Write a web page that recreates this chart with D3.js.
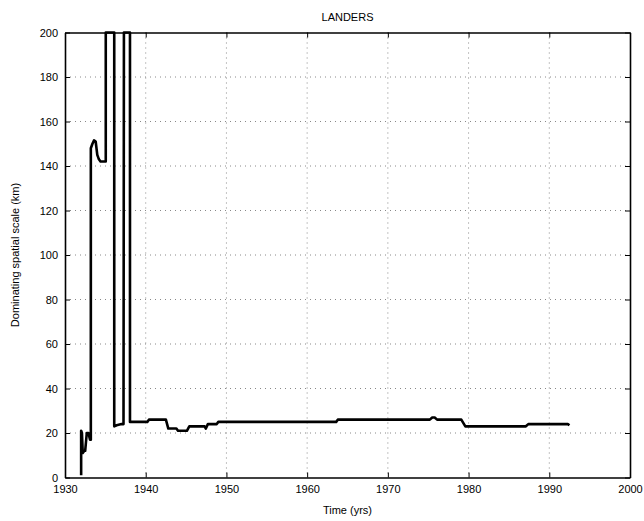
<!DOCTYPE html>
<html><head><meta charset="utf-8">
<script src="https://cdn.jsdelivr.net/npm/d3@7"></script>
<style>body{margin:0;background:#fff}text{font-family:"Liberation Sans",Arial,sans-serif}</style>
</head><body><svg id="c" width="644" height="521"></svg>
<script>
const title = "LANDERS";
const xLabel = "Time (yrs)";
const yLabel = "Dominating spatial scale (km)";
const xTicks = [1930,1940,1950,1960,1970,1980,1990,2000];
const yTicks = [0,20,40,60,80,100,120,140,160,180,200];
const years = [1932.0,1932.0,1932.1,1932.2,1932.4,1932.5,1932.7,1932.9,1933.1,1933.2,1933.2,1933.4,1933.6,1933.8,1934.0,1934.2,1934.4,1934.7,1934.75,1935.05,1935.05,1936.1,1936.1,1936.4,1937.0,1937.25,1937.3,1938.05,1938.05,1940.2,1940.4,1942.5,1942.8,1943.8,1944.0,1945.1,1945.4,1947.3,1947.45,1947.7,1948.8,1949.0,1963.6,1963.8,1975.2,1975.5,1975.8,1976.1,1979.1,1979.6,1987.1,1987.4,1992.3,1992.5];
const values = [1,21,20,11,12,12,20,20,17,17,148,150,151.5,151,145,143,142,142,142,142,200,200,23,23.5,24,24,200,200,25,25,26,26,22,22,21,21,23,23,22,24,24,25,25,26,26,27,27,26,26,23,23,24,24,23.5];

const svg = d3.select("#c");
const m = {l:65, r:630, t:32.5, b:477.5};
const x = d3.scaleLinear().domain([1930,2000]).range([m.l,m.r]);
const y = d3.scaleLinear().domain([0,200]).range([m.b,m.t]);

// grid
const g = svg.append("g");
g.selectAll(".gx").data(xTicks.slice(1,-1)).enter().append("line")
 .attr("x1",d=>x(d)).attr("x2",d=>x(d)).attr("y1",m.t).attr("y2",m.b)
 .attr("stroke","#888").attr("stroke-width",1).attr("stroke-dasharray","1,4");
g.selectAll(".gy").data(yTicks.slice(1,-1)).enter().append("line")
 .attr("y1",d=>y(d)).attr("y2",d=>y(d)).attr("x1",m.l).attr("x2",m.r)
 .attr("stroke","#888").attr("stroke-width",1).attr("stroke-dasharray","1,4");

// data line
const pts = years.map((d,i)=>[d,values[i]]);
svg.append("path").datum(pts)
 .attr("d", d3.line().x(d=>x(d[0])).y(d=>y(d[1])))
 .attr("fill","none").attr("stroke","#000").attr("stroke-width",2.6).attr("stroke-linejoin","round");

// axes
const ax = svg.append("g").attr("transform",`translate(0,${m.b})`)
 .call(d3.axisBottom(x).tickValues(xTicks).tickFormat(d3.format("d")).tickSizeInner(-5).tickSizeOuter(0).tickPadding(8));
const ay = svg.append("g").attr("transform",`translate(${m.l},0)`)
 .call(d3.axisLeft(y).tickValues(yTicks).tickSizeInner(-5).tickSizeOuter(0).tickPadding(7));
const axT = svg.append("g").attr("transform",`translate(0,${m.t})`)
 .call(d3.axisTop(x).tickValues(xTicks).tickFormat("").tickSizeInner(-5).tickSizeOuter(0));
const ayR = svg.append("g").attr("transform",`translate(${m.r},0)`)
 .call(d3.axisRight(y).tickValues(yTicks).tickFormat("").tickSizeInner(-5).tickSizeOuter(0));
[ax,ay,axT,ayR].forEach(a=>{
  a.selectAll(".domain").attr("stroke","#000").attr("stroke-width",1.6);
  a.selectAll(".tick line").attr("stroke","#000").attr("stroke-width",1);
  a.selectAll("text").attr("font-size",11).attr("fill","#000").attr("font-family","'Liberation Sans',Arial,sans-serif");
});

svg.append("text").attr("x",(m.l+m.r)/2).attr("y",21).attr("text-anchor","middle").attr("font-size",11).text(title);
svg.append("text").attr("x",(m.l+m.r)/2).attr("y",514).attr("text-anchor","middle").attr("font-size",11).text(xLabel);
svg.append("text").attr("transform",`translate(19,${(m.t+m.b)/2}) rotate(-90)`).attr("text-anchor","middle").attr("font-size",11).text(yLabel);
</script></body></html>
